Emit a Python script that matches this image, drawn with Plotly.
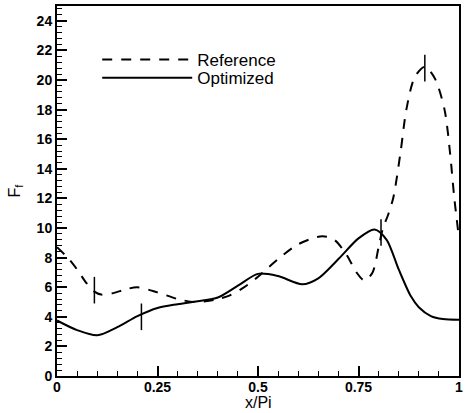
import plotly.graph_objects as go

# Reference (dashed) curve
ref_x = [0.0, 0.03, 0.05, 0.07, 0.093, 0.11, 0.14, 0.17, 0.2, 0.25, 0.3, 0.34, 0.37, 0.4, 0.43, 0.46,
         0.5, 0.55, 0.6, 0.66, 0.69, 0.72, 0.745, 0.765, 0.785, 0.8, 0.81, 0.825, 0.837, 0.855, 0.869,
         0.89, 0.915, 0.94, 0.964, 0.978, 0.988, 1.0]
ref_y = [8.7, 7.9, 7.2, 6.4, 5.7, 5.5, 5.6, 5.85, 6.0, 5.65, 5.2, 5.0, 5.05, 5.2, 5.45, 5.9,
         6.7, 7.9, 8.9, 9.45, 9.2, 8.2, 7.0, 6.45, 7.0, 8.7, 9.9, 11.0, 12.1, 15.2, 18.0,
         20.2, 20.9, 20.1, 18.0, 15.0, 12.1, 9.3]

# Optimized (solid) curve
opt_x = [0.0, 0.05, 0.1, 0.15, 0.2, 0.25, 0.3, 0.35, 0.4, 0.45, 0.5, 0.55, 0.61, 0.65, 0.7, 0.75,
         0.79, 0.82, 0.85, 0.88, 0.9, 0.93, 0.96, 1.0]
opt_y = [3.75, 3.1, 2.75, 3.3, 4.05, 4.6, 4.85, 5.05, 5.3, 6.1, 6.9, 6.75, 6.2, 6.6, 7.9, 9.3,
         9.9, 9.2, 7.2, 5.4, 4.65, 4.05, 3.85, 3.8]

# Vertical tick marks on the curves
mark_x = [0.093, 0.21, 0.806, 0.915]
mark_y = [5.8, 4.0, 9.7, 20.8]

x_tickvals = [0, 0.25, 0.5, 0.75, 1]
x_ticktext = ["0", "0.25", "0.5", "0.75", "1"]
y_tickvals = list(range(0, 25, 2))

fig = go.Figure()
fig.add_trace(go.Scatter(x=ref_x, y=ref_y, mode="lines", name="Reference", legend="legend",
                         line=dict(color="black", width=2, dash="10px,9px", shape="spline", smoothing=0.8)))
fig.add_trace(go.Scatter(x=opt_x, y=opt_y, mode="lines", name="Optimized", legend="legend2",
                         line=dict(color="black", width=2, shape="spline", smoothing=0.8)))
fig.add_trace(go.Scatter(x=mark_x, y=mark_y, mode="markers", showlegend=False,
                         marker=dict(symbol="line-ns", size=19, line=dict(color="black", width=1.5))))

tickfont = dict(family="Liberation Sans, Arial", size=14, color="black", weight="bold")
legfont = dict(family="Liberation Sans, Arial", size=17, color="black")

fig.update_layout(
    width=466, height=413,
    margin=dict(l=57, r=3, t=6, b=37),
    paper_bgcolor="white", plot_bgcolor="white",
    showlegend=True,
    legend=dict(x=0.1, y=0.854, xanchor="left", yanchor="middle", bgcolor="rgba(0,0,0,0)",
                font=legfont, itemwidth=90),
    legend2=dict(x=0.1, y=0.805, xanchor="left", yanchor="middle", bgcolor="rgba(0,0,0,0)",
                 font=legfont, itemwidth=90),
    xaxis=dict(range=[0, 1], tickvals=x_tickvals, ticktext=x_ticktext, ticks="inside", ticklen=10,
               tickwidth=1.5, tickcolor="black", showline=True, linecolor="black", linewidth=2,
               mirror=True, showgrid=False, zeroline=False, tickfont=tickfont, ticklabelstandoff=-3,
               minor=dict(dtick=0.05, ticks="inside", ticklen=5, tickcolor="black", tickwidth=1)),
    yaxis=dict(range=[0, 25], tickvals=y_tickvals, ticks="inside", ticklen=10, tickwidth=1.5,
               tickcolor="black", showline=True, linecolor="black", linewidth=2, mirror=True,
               showgrid=False, zeroline=False, tickfont=tickfont,
               minor=dict(dtick=0.4, ticks="inside", ticklen=5, tickcolor="black", tickwidth=1),
               title=dict(text="F<sub>f</sub>", font=dict(family="Liberation Sans, Arial", size=16, color="black"),
                          standoff=12)),
    annotations=[dict(text="x/Pi", xref="paper", yref="paper", x=0.5, y=-0.071, xanchor="center",
                      yanchor="middle", showarrow=False,
                      font=dict(family="Liberation Sans, Arial", size=16, color="black"))],
)

fig.write_html("out.html", config={"displayModeBar": False},
               post_script="document.body.style.margin='0px';")
